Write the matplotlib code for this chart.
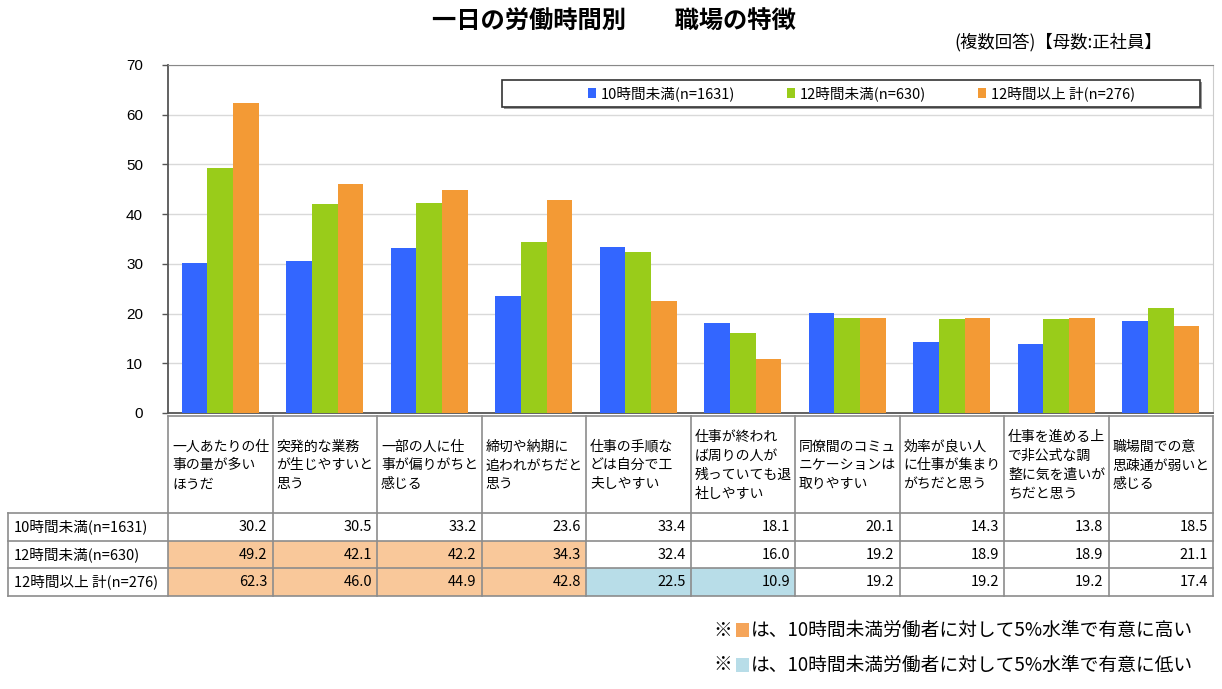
import matplotlib
matplotlib.use("Agg")
import matplotlib.pyplot as plt
from matplotlib.patches import Rectangle
from matplotlib.lines import Line2D
import numpy as np

plt.rcParams['font.family'] = ['Noto Sans CJK JP', 'DejaVu Sans']

# ---------------- data ----------------
title = "一日の労働時間別　　職場の特徴"
subtitle = "(複数回答)【母数:正社員】"
categories = [
    "一人あたりの仕\n事の量が多い\nほうだ",
    "突発的な業務\nが生じやすいと\n思う",
    "一部の人に仕\n事が偏りがちと\n感じる",
    "締切や納期に\n追われがちだと\n思う",
    "仕事の手順な\nどは自分で工\n夫しやすい",
    "仕事が終われ\nば周りの人が\n残っていても退\n社しやすい",
    "同僚間のコミュ\nニケーションは\n取りやすい",
    "効率が良い人\nに仕事が集まり\nがちだと思う",
    "仕事を進める上\nで非公式な調\n整に気を遣いが\nちだと思う",
    "職場間での意\n思疎通が弱いと\n感じる",
]
series_names = ["10時間未満(n=1631)", "12時間未満(n=630)", "12時間以上 計(n=276)"]
under10 = [30.2, 30.5, 33.2, 23.6, 33.4, 18.1, 20.1, 14.3, 13.8, 18.5]
under12 = [49.2, 42.1, 42.2, 34.3, 32.4, 16.0, 19.2, 18.9, 18.9, 21.1]
over12 = [62.3, 46.0, 44.9, 42.8, 22.5, 10.9, 19.2, 19.2, 19.2, 17.4]
# significance vs 10h group: 'H' higher, 'L' lower, '' none
sig_under10 = [''] * 10
sig_under12 = ['H', 'H', 'H', 'H', '', '', '', '', '', '']
sig_over12 = ['H', 'H', 'H', 'H', 'L', 'L', '', '', '', '']
yticks = [0, 10, 20, 30, 40, 50, 60, 70]
note_high = "は、10時間未満労働者に対して5%水準で有意に高い"
note_low = "は、10時間未満労働者に対して5%水準で有意に低い"

series = [under10, under12, over12]
sigs = [sig_under10, sig_under12, sig_over12]
colors = ["#3366FF", "#99CC1A", "#F39A35"]
hi_color = "#F9C89A"
lo_color = "#B8DDE8"

W, H = 1222, 689
fig = plt.figure(figsize=(W / 100, H / 100), dpi=100)

def fbox(l, t, r, b):
    return [l / W, 1 - b / H, (r - l) / W, (b - t) / H]

L, T, R, B = 168, 65, 1213, 413
ax = fig.add_axes(fbox(L, T, R, B))
n = len(categories)
x = np.arange(n)
bw = 0.245
for k, (vals, c) in enumerate(zip(series, colors)):
    ax.bar(x + (k - 1) * bw, vals, width=bw, color=c, edgecolor='none',
           label=series_names[k], zorder=3)
ax.set_xlim(-0.5, n - 0.5)
ax.set_ylim(0, 70)
ax.set_yticks(yticks)
ax.set_yticklabels([str(v) for v in yticks], fontsize=11, family=['Liberation Sans'])
ax.set_xticks([])
ax.yaxis.grid(True, color="#D9D9D9", linewidth=1, zorder=0)
ax.tick_params(axis='y', length=4, width=1, color="#555555", pad=14)
for s in ['left', 'bottom']:
    ax.spines[s].set_color("#555555")
    ax.spines[s].set_linewidth(1.3)
ax.spines['top'].set_color("#888888")
ax.spines['right'].set_color("#CCCCCC")

# legend box
lx0, lx1 = (502 - L) / (R - L), (1200 - L) / (R - L)
ly0, ly1 = 1 - (107 - T) / (B - T), 1 - (80 - T) / (B - T)
ax.add_patch(Rectangle((lx0 + 0.002, ly0 - 0.006), lx1 - lx0, ly1 - ly0,
                       transform=ax.transAxes, facecolor="#999999",
                       edgecolor='none', zorder=5))
ax.add_patch(Rectangle((lx0, ly0), lx1 - lx0, ly1 - ly0, transform=ax.transAxes,
                       facecolor='white', edgecolor='#333333', linewidth=1.2, zorder=6))
handles = [Rectangle((0, 0), 1, 1, facecolor=c, edgecolor='none') for c in colors]
leg = ax.legend(handles, series_names, ncol=3, loc='center',
                bbox_to_anchor=((lx0 + lx1) / 2 + 0.01, (ly0 + ly1) / 2),
                frameon=False, fontsize=10.5, handlelength=0.55, handleheight=0.7,
                handletextpad=0.3, columnspacing=3.6)
leg.set_zorder(7)

# title
fig.text(614 / W, 1 - 22 / H, title, ha='center', va='center', fontsize=17.5,
         fontweight='bold')
fig.text(1162 / W, 1 - 42 / H, subtitle, ha='right', va='center', fontsize=12.5)

# ---------------- table ----------------
tax = fig.add_axes([0, 0, 1, 1])
tax.set_xlim(0, W)
tax.set_ylim(H, 0)
tax.axis('off')
colw = (R - L) / n
row_top = 416
hdr_bot = 513
row_h = 27.7
row_bots = [hdr_bot + row_h * (i + 1) for i in range(3)]
lc = "#8C8C8C"

# cell fills
for r, (vals, sg) in enumerate(zip(series, sigs)):
    top = hdr_bot + row_h * r
    for i, s in enumerate(sg):
        if s:
            tax.add_patch(Rectangle((L + i * colw, top), colw, row_h,
                                    facecolor=hi_color if s == 'H' else lo_color,
                                    edgecolor='none'))
# grid lines
tax.add_line(Line2D([L, R], [row_top, row_top], color=lc, lw=1.2))
for yb in [hdr_bot] + row_bots:
    tax.add_line(Line2D([8, R], [yb, yb], color=lc, lw=1.2))
for i in range(n + 1):
    xe = L + i * colw
    tax.add_line(Line2D([xe, xe], [row_top, row_bots[-1]], color=lc, lw=1.2))
tax.add_line(Line2D([8, 8], [hdr_bot, row_bots[-1]], color=lc, lw=1.2))

# header text
for i, c in enumerate(categories):
    tax.text(L + i * colw + 4, (row_top + hdr_bot) / 2 + 1, c, ha='left',
             va='center', fontsize=10, linespacing=1.45)
# row labels & values
for r, (name, vals) in enumerate(zip(series_names, series)):
    yc = hdr_bot + row_h * r + row_h / 2
    tax.text(14, yc, name, ha='left', va='center', fontsize=10.5)
    for i, v in enumerate(vals):
        tax.text(L + (i + 1) * colw - 5, yc, f"{v:.1f}", ha='right',
                 va='center', fontsize=10.5)

# footnotes
for yc, col, txt in [(630, "#F5A55A", note_high), (665, lo_color, note_low)]:
    tax.text(713, yc, "※", ha='left', va='center', fontsize=13.5)
    tax.add_patch(Rectangle((736, yc - 7), 13, 14, facecolor=col, edgecolor='none'))
    tax.text(751, yc, txt, ha='left', va='center', fontsize=13.5)

fig.savefig("out.png", dpi=100)
